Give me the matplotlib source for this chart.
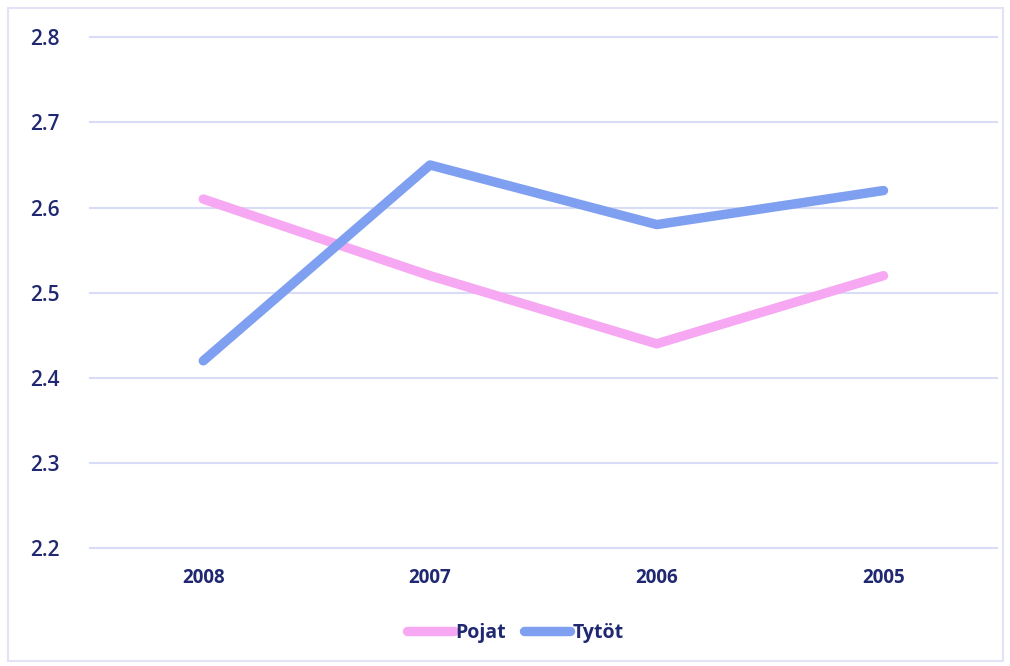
import matplotlib
matplotlib.use('Agg')
import matplotlib.pyplot as plt
from matplotlib.patches import Rectangle

years = ['2008', '2007', '2006', '2005']
pojat = [2.61, 2.52, 2.44, 2.52]
tytot = [2.42, 2.65, 2.58, 2.62]
y_ticks = [2.2, 2.3, 2.4, 2.5, 2.6, 2.7, 2.8]

text_color = '#1f2870'
grid_color = '#d9dcf6'

plt.rcParams['font.family'] = ['Open Sans', 'DejaVu Sans']

fig = plt.figure(figsize=(10.1, 6.66), dpi=100)
ax = fig.add_axes([0.089, 0.177, 0.898, 0.767])

x = [i + 0.5 for i in range(len(years))]
ax.plot(x, pojat, color='#f6a8f2', lw=6.8, solid_capstyle='round', label='Pojat')
ax.plot(x, tytot, color='#7f9ff0', lw=6.8, solid_capstyle='round', label='Tytöt')

ax.set_xlim(0, 4)
ax.set_ylim(2.2, 2.8)
ax.set_yticks(y_ticks)
ax.set_yticklabels([f'{v:.1f}' for v in y_ticks], fontsize=15, color=text_color,
                   fontweight='semibold')
ax.set_xticks(x)
ax.set_xticklabels(years, fontsize=13.5, color=text_color, fontweight='bold')
ax.tick_params(axis='both', length=0)
ax.tick_params(axis='y', pad=22)
ax.tick_params(axis='x', pad=14)

ax.grid(True, axis='y', color=grid_color, lw=1.5)
for gl in ax.get_ygridlines():
    gl.set_clip_on(False)
ax.set_axisbelow(True)
for s in ax.spines.values():
    s.set_visible(False)

# outer frame
fig.patches.append(Rectangle((0.008, 0.008), 0.985, 0.98, transform=fig.transFigure,
                             fill=False, edgecolor='#e2e3f7', lw=1.5))

leg = fig.legend(loc='center', bbox_to_anchor=(0.51, 0.05), ncol=2, frameon=False,
                 handlelength=2.4, handletextpad=0.1, columnspacing=0.9,
                 prop={'size': 14, 'weight': 'bold'})
for t in leg.get_texts():
    t.set_color(text_color)

plt.savefig('out.png')
plt.close()
